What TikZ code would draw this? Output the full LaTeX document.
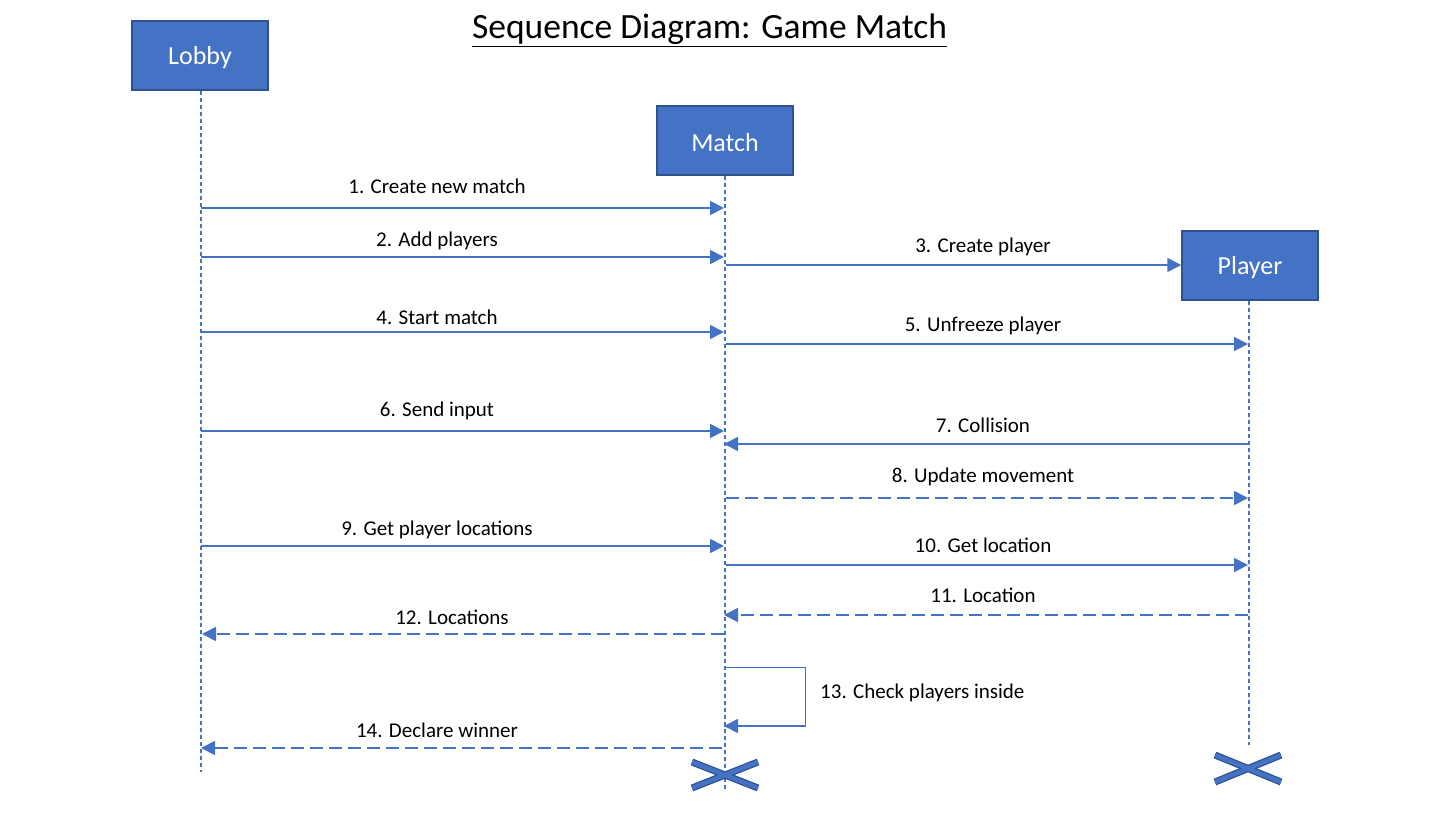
\documentclass[tikz,border=0pt]{standalone}
\usepackage{fontspec}
\setmainfont{Carlito}
\usetikzlibrary{arrows.meta}
\definecolor{boxfill}{HTML}{4472C4}
\definecolor{boxline}{HTML}{2F528F}
\tikzset{
  actor/.style={draw=boxline, line width=1.5pt, fill=boxfill, minimum width=136pt, minimum height=69pt, inner sep=0pt, text=white, font=\fontsize{26}{30}\selectfont},
  lifeline/.style={draw=boxfill, line width=1.2pt, dash pattern=on 4pt off 3pt},
  msg/.style={draw=boxfill, line width=1.8pt, -{Triangle[length=14pt,width=14pt]}},
  reply/.style={msg, dash pattern=on 13pt off 6pt},
  selfmsg/.style={draw=boxfill, line width=1pt},
  lbl/.style={font=\fontsize{21}{24}\selectfont, text=black, inner sep=0pt},
  xouter/.style={draw=boxline, line width=7pt},
  xinner/.style={draw=boxfill, line width=4.5pt}
}
\begin{document}
\begin{tikzpicture}[x=1pt,y=-1pt]
\useasboundingbox (0,0) rectangle (1450,814);
\node[font=\fontsize{35.5}{40}\selectfont, inner sep=0pt] (title) at (709.5,30) {\underline{Sequence Diagram: Game Match}};
\node[actor] (lobby) at (200,55.5) {};
\node[actor] (match) at (725,140.5) {};
\node[actor] (player) at (1250,265.5) {};
\node[text=white, font=\fontsize{26}{30}\selectfont, inner sep=0pt] (lobbyt) at (200,58) {Lobby};
\node[text=white, font=\fontsize{26}{30}\selectfont, inner sep=0pt] (matcht) at (725,143) {Match};
\node[text=white, font=\fontsize{26}{30}\selectfont, inner sep=0pt] (playert) at (1250,268) {Player};
\coordinate (lobbyend) at (201,772);
\coordinate (matchend) at (725,790);
\coordinate (playerend) at (1249,745);
\draw[lifeline] (lobby.south -| lobbyend) -- (lobbyend);
\draw[lifeline] (match.south) -- (matchend);
\draw[lifeline] (player.south -| playerend) -- (playerend);
% message end points
\coordinate (l1) at (201,208); \coordinate (m1) at (724,208);
\coordinate (l2) at (201,257); \coordinate (m2) at (724,257);
\coordinate (m3) at (726,265);
\coordinate (l4) at (201,332); \coordinate (m4) at (724,332);
\coordinate (m5) at (726,344); \coordinate (p5) at (1248,344);
\coordinate (l6) at (201,431); \coordinate (m6) at (724,431);
\coordinate (p7) at (1248,444); \coordinate (m7) at (724,444);
\coordinate (m8) at (726,498); \coordinate (p8) at (1248,498);
\coordinate (l9) at (201,546); \coordinate (m9) at (724,546);
\coordinate (m10) at (726,565); \coordinate (p10) at (1248,565);
\coordinate (p11) at (1248,615); \coordinate (m11) at (724,615);
\coordinate (m12) at (724,634); \coordinate (l12) at (202,634);
\coordinate (s1) at (726,667); \coordinate (s2) at (805,667); \coordinate (s3) at (805,726); \coordinate (m13) at (724,726);
\coordinate (m14) at (722,748); \coordinate (l14) at (201,748);
\draw[msg] (l1) -- (m1);
\draw[msg] (l2) -- (m2);
\draw[msg] (m3) -- (player.west |- m3);
\draw[msg] (l4) -- (m4);
\draw[msg] (m5) -- (p5);
\draw[msg] (l6) -- (m6);
\draw[msg] (p7) -- (m7);
\draw[reply] (m8) -- (p8);
\draw[msg] (l9) -- (m9);
\draw[msg] (m10) -- (p10);
\draw[reply] (p11) -- (m11);
\draw[reply] (m12) -- (l12);
\draw[selfmsg] (s1) -- (s2) -- (s3) -- (m13);
\draw[msg] (s3) -- (m13);
\draw[reply] (m14) -- (l14);
% labels
\node[lbl] (t1) at (437,186) {1. Create new match};
\node[lbl] (t2) at (437,241) {2. Add players};
\node[lbl] (t3) at (983,247) {3. Create player};
\node[lbl] (t4) at (437,317) {4. Start match};
\node[lbl] (t5) at (983,326) {5. Unfreeze player};
\node[lbl] (t6) at (437,411) {6. Send input};
\node[lbl] (t7) at (983,425) {7. Collision};
\node[lbl] (t8) at (983,477) {8. Update movement};
\node[lbl] (t9) at (437,530) {9. Get player locations};
\node[lbl] (t10) at (983,545) {10. Get location};
\node[lbl] (t11) at (983,595) {11. Location};
\node[lbl] (t12) at (452,617) {12. Locations};
\node[lbl, anchor=west] (t13) at (820,693) {13. Check players inside};
\node[lbl] (t14) at (437,730) {14. Declare winner};
% destruction marks
\coordinate (xa1) at (692,762); \coordinate (xa2) at (758,788);
\coordinate (xa3) at (692,788); \coordinate (xa4) at (758,762);
\coordinate (xb1) at (1215,755); \coordinate (xb2) at (1281,782);
\coordinate (xb3) at (1215,782); \coordinate (xb4) at (1281,755);
\draw[xouter] (xa1) -- (xa2); \draw[xouter] (xa3) -- (xa4);
\draw[xinner] (xa1) -- (xa2); \draw[xinner] (xa3) -- (xa4);
\draw[xouter] (xb1) -- (xb2); \draw[xouter] (xb3) -- (xb4);
\draw[xinner] (xb1) -- (xb2); \draw[xinner] (xb3) -- (xb4);
\end{tikzpicture}
\end{document}
